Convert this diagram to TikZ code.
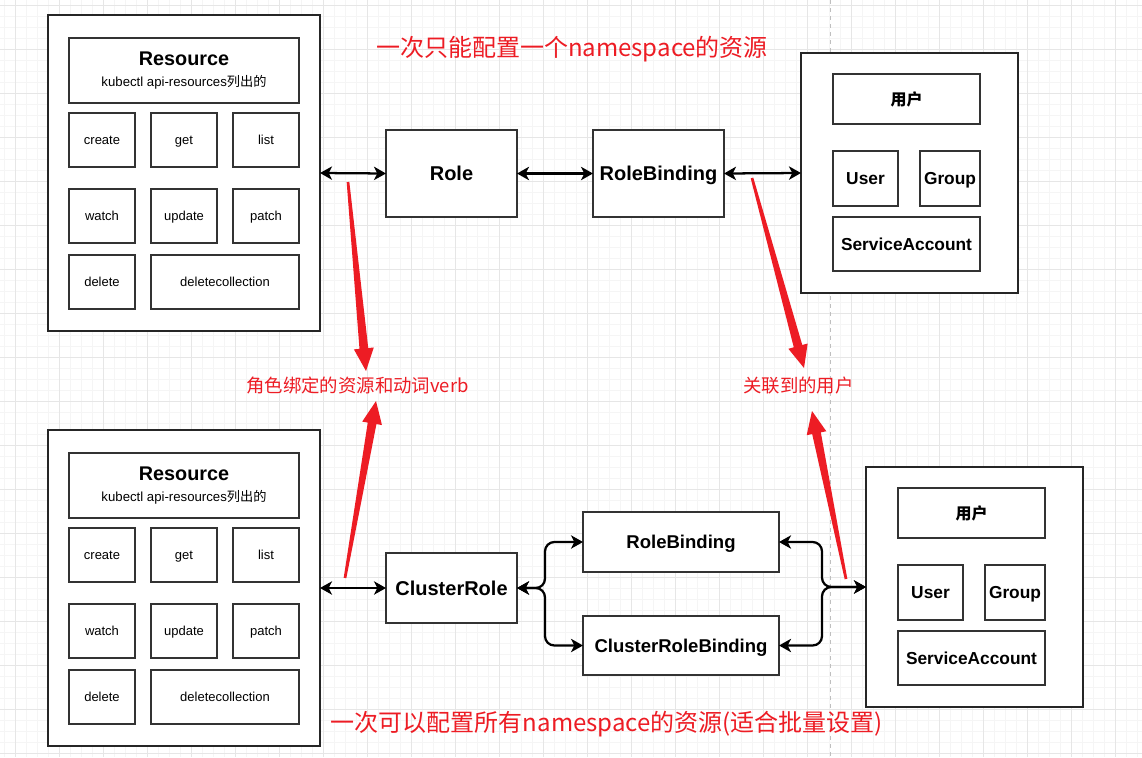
\documentclass[tikz,border=0pt]{standalone}
\usepackage{fontspec}
\setmainfont{Liberation Sans}
\newfontfamily\cjk{Noto Sans CJK SC}
\usetikzlibrary{positioning, arrows.meta, calc}

\definecolor{markRed}{RGB}{237,28,36}
\definecolor{gridMinor}{RGB}{245,245,245}
\definecolor{gridMajor}{RGB}{230,230,230}

% tapered red pointer from #1 (thin end) to #2 (tip)
\newcommand{\taperarrow}[2]{%
  \coordinate (hb) at ($(#2)!17pt!(#1)$);
  \fill[markRed] ($(#1)!1pt!90:(#2)$) -- ($(hb)!3.3pt!90:(#2)$) -- ($(hb)!7.5pt!90:(#2)$)
    -- (#2) -- ($(hb)!7.5pt!-90:(#2)$) -- ($(hb)!3.3pt!-90:(#2)$) -- ($(#1)!1pt!-90:(#2)$) -- cycle;}

\begin{document}
\begin{tikzpicture}[x=0.75pt, y=-0.75pt,
	wh/.style 2 args={minimum width=#1*0.75pt, minimum height=#2*0.75pt},
	outer/.style={draw=black!85, fill=white, line width=1.1pt, inner sep=0pt, outer sep=0pt},
	box/.style={draw=black!80, fill=white, line width=1.1pt, inner sep=0pt, outer sep=0pt, text depth=0pt},
	verb/.style={box, wh={66}{54}, font=\fontsize{9.75}{11}\selectfont, text height=6.6pt},
	role/.style={box, font=\bfseries\fontsize{15}{17}\selectfont, text height=10.8pt},
	rolesm/.style={role, font=\bfseries\fontsize{13.9}{16}\selectfont, text height=10pt},
	subj/.style={box, font=\bfseries\fontsize{13}{15}\selectfont, text height=9.4pt},
	redtxt/.style={text=markRed, inner sep=0pt},
	>={Stealth[length=9pt, width=10pt, inset=2.5pt]},
	link/.style={<->, line width=1.7pt, rounded corners=7pt},
	]

	% background and grid
	\fill[white] (0,0) rectangle (1142,757);
	\useasboundingbox (0,0) rectangle (1142,757);
	\foreach \gx in {4,15,...,1142} \draw[gridMinor, line width=0.6pt] (\gx,0) -- (\gx,757);
	\foreach \gy in {5,16,...,757} \draw[gridMinor, line width=0.6pt] (0,\gy) -- (1142,\gy);
	\foreach \gx in {15,59,...,1142} \draw[gridMajor, line width=0.6pt] (\gx,0) -- (\gx,757);
	\foreach \gy in {5,49,...,757} \draw[gridMajor, line width=0.6pt] (0,\gy) -- (1142,\gy);
	\draw[black!25, line width=0.7pt, dash pattern=on 3pt off 3pt] (830,0) -- (830,757);

	% resource blocks
	\foreach \i/\dy in {1/0, 2/415} {
	\begin{scope}[shift={(0,\dy)}]
		\node[outer, wh={272}{316}] (ResOut\i) at (184,173) {};
		\node[draw=black!80, fill=white, line width=1.1pt, inner sep=0pt, wh={230}{65}, align=center] (Res\i) at (184,70.5)
			{{\bfseries\fontsize{14.85}{16}\selectfont Resource}\\[3.5pt]
			 {\fontsize{9.9}{11}\selectfont kubectl api-resources{\cjk 列出的}}};
		\foreach \vb/\cx/\cy in {create/102/140, get/184/140, list/266/140,
			watch/102/216, update/184/216, patch/266/216, delete/102/282}
			\node[verb] (\vb\i) at (\cx,\cy) {\vb};
		\node[verb, wh={148}{54}] (deletecollection\i) at (225,282) {deletecollection};
	\end{scope}
	}

	% subject blocks
	\foreach \i/\dx/\dy in {1/0/0, 2/65/414} {
	\begin{scope}[shift={(\dx,\dy)}]
		\node[outer, wh={217}{240}] (UsrOut\i) at (909.5,173) {};
		\node[subj, wh={147}{50}, font=\cjk\bfseries\fontsize{12}{14}\selectfont, text height=9.2pt] (Yonghu\i) at (906.5,99) {用户};
		\node[subj, wh={65}{55}] (User\i) at (865.5,178.5) {User};
		\node[subj, wh={60}{55}] (Group\i) at (950,178.5) {Group};
		\node[subj, wh={147}{54}] (SvcAcct\i) at (906.5,244) {ServiceAccount};
	\end{scope}
	}

	% roles and bindings
	\node[role, wh={131}{87}] (Role) at (451.5,173.5) {Role};
	\node[role, wh={131}{87}] (RoleBind) at (658.5,173.5) {RoleBinding};
	\node[role, wh={131}{70}] (ClRole) at (451.5,588) {ClusterRole};
	\node[rolesm, wh={196}{60}] (RoleBindB) at (681,542) {RoleBinding};
	\node[rolesm, wh={196}{59}] (ClRoleBind) at (681,645.5) {ClusterRoleBinding};

	\draw[link] (ResOut1.east) -- (Role.west);
	\draw[link] (Role.east) -- (RoleBind.west);
	\draw[link] (RoleBind.east) -- (UsrOut1.west);
	\draw[link] (ResOut2.east) -- (ClRole.west);
	\draw[link] (ClRole.east) -- ++(28,0) |- (RoleBindB.west);
	\draw[link] (ClRole.east) -- ++(28,0) |- (ClRoleBind.west);
	\draw[link] (RoleBindB.east) -- ++(43,0) |- (UsrOut2.west);
	\draw[link] (ClRoleBind.east) -- ++(43,0) |- (UsrOut2.west);

	% red notes
	\node[redtxt, font=\cjk\fontsize{18}{20}\selectfont] (TopNote) at (572,49) {一次只能配置一个namespace的资源};
	\node[redtxt, font=\cjk\fontsize{18}{20}\selectfont] (BotNote) at (607,724) {一次可以配置所有namespace的资源(适合批量设置)};
	\node[redtxt, font=\cjk\fontsize{13.8}{15}\selectfont] (VerbNote) at (357.5,386) {角色绑定的资源和动词verb};
	\node[redtxt, font=\cjk\fontsize{13.8}{15}\selectfont] (UserNote) at (798.5,386) {关联到的用户};

	\coordinate (PtA) at (348,182);  \coordinate (TipA) at (366,371);
	\coordinate (PtB) at (752,178);  \coordinate (TipB) at (804,368);
	\coordinate (PtC) at (345,578);  \coordinate (TipC) at (376,401);
	\coordinate (PtD) at (846,579);  \coordinate (TipD) at (812,411);
	\taperarrow{PtA}{TipA}
	\taperarrow{PtB}{TipB}
	\taperarrow{PtC}{TipC}
	\taperarrow{PtD}{TipD}
\end{tikzpicture}
\end{document}
